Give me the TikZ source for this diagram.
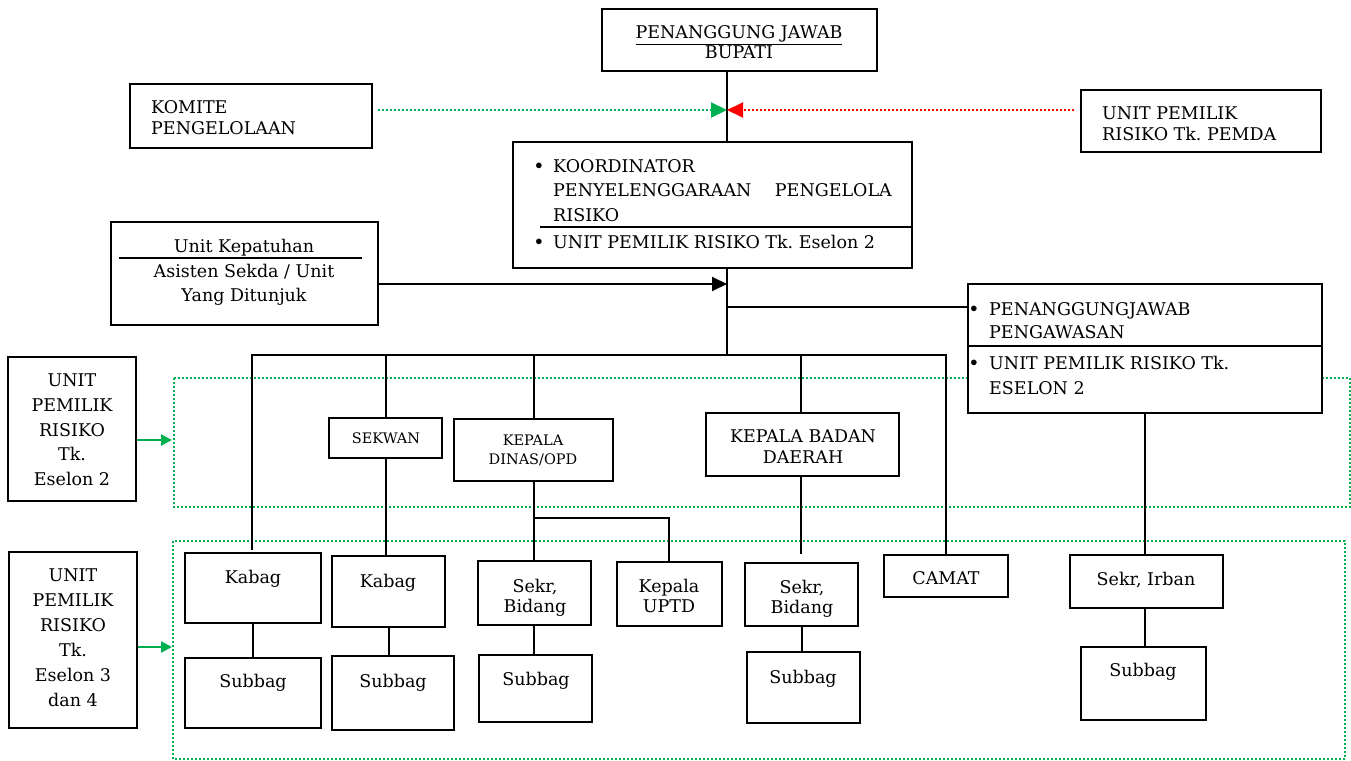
\documentclass[tikz,border=0pt]{standalone}
\usepackage{fontspec}
\setmainfont{DejaVu Serif}
\usetikzlibrary{arrows.meta}
\definecolor{gr}{HTML}{00B050}
\definecolor{rd}{HTML}{FF0000}
\frenchspacing
\tikzset{
 box/.style={draw=black, line width=1.8pt, fill=white, inner sep=0pt},
 conn/.style={draw=black, line width=1.9pt},
 gdot/.style={draw=gr, line width=2pt, dash pattern=on 2pt off 2pt},
 rdot/.style={draw=rd, line width=2pt, dash pattern=on 2pt off 2pt},
 tx/.style={inner sep=0pt, font=\fontsize{17.5}{20}\selectfont},
 txs/.style={inner sep=0pt, font=\fontsize{14.5}{17}\selectfont},
}
\newcommand\bx[5]{\node[box, minimum width={(#3-#1)*1pt}, minimum height={(#4-#2)*1pt}] (#5) at ({(#1+#3)/2},{(#2+#4)/2}) {};}
\newcommand\tl[5][tx]{\node[#1,anchor=base west] (#2) at (#3,#4) {#5};}
\newcommand\tc[5][tx]{\node[#1,anchor=base] (#2) at (#3,#4) {#5};}
\newcommand\bul[3]{\node[inner sep=0pt] (#1) at (#2,#3) {\fontsize{15}{15}\selectfont$\bullet$};}
\begin{document}
\begin{tikzpicture}[x=1pt,y=-1pt]
\useasboundingbox (0,0) rectangle (1351,760);
% green dotted areas
\draw[gdot] (174,378) rectangle (1350,507);
\draw[gdot] (173,541) rectangle (1345,759);
% junction coordinates
\coordinate (jt) at (727,110);
\coordinate (jk) at (727,284);
\coordinate (jp) at (727,307);
\coordinate (jm) at (727,355);
\coordinate (jl) at (252,355);
\coordinate (js) at (386,355);
\coordinate (jn) at (534,355);
\coordinate (jd) at (534,518);
\coordinate (ju) at (669,518);
\coordinate (jb) at (801,554);
\coordinate (jc) at (802,626);
\coordinate (jg) at (389,627);
\coordinate (ji) at (1145,413);
% boxes
\bx{602}{9}{877}{71}{top}
\bx{130}{84}{372}{148}{komite}
\bx{1081}{90}{1321}{152}{pemda}
\bx{513}{142}{912}{268}{koord}
\bx{111}{222}{378}{325}{kepat}
\bx{968}{284}{1322}{413}{pengaw}
\bx{8}{357}{136}{501}{ueA}
\bx{9}{552}{137}{728}{ueB}
\bx{329}{418}{442}{458}{sekwan}
\bx{454}{419}{613}{481}{kdinas}
\bx{706}{413}{899}{476}{kbadan}
\bx{185}{553}{321}{623}{kabagA}
\bx{185}{658}{321}{728}{subA}
\bx{332}{556}{445}{627}{kabagB}
\bx{332}{656}{454}{730}{subB}
\bx{478}{561}{591}{625}{sekrA}
\bx{479}{655}{592}{722}{subC}
\bx{617}{562}{722}{626}{uptd}
\bx{745}{563}{858}{626}{sekrB}
\bx{747}{652}{860}{723}{subD}
\bx{884}{555}{1008}{597}{camat}
\bx{1070}{555}{1223}{608}{irban}
\bx{1081}{647}{1206}{720}{subE}
% connectors
\draw[conn] (top.south -| jt) -- (koord.north -| jt);
\draw[conn] (koord.south -| jm) -- (jm);
\draw[conn, -{Triangle[length=15pt,width=14pt]}] (kepat.east |- jk) -- (jk);
\draw[conn] (jp) -- (jp -| pengaw.west);
\draw[conn] (jl |- kabagA.north) ++(0,-2) -- (jl) -- (camat.north |- jl) -- (camat.north);
\draw[conn] (js) -- (js |- sekwan.north);
\draw[conn] (jn) -- (jn |- kdinas.north);
\draw[conn] (jb |- jl) -- (jb |- kbadan.north);
\draw[conn] (jb |- kbadan.south) -- (jb);
\draw[conn] (js |- sekwan.south) -- (js |- kabagB.north);
\draw[conn] (jn |- kdinas.south) -- (jn |- sekrA.north);
\draw[conn] (jd) -- (ju) -- (ju |- uptd.north);
\draw[conn] (ji) -- (ji |- irban.north);
\draw[conn] (kabagA.south) -- (subA.north);
\draw[conn] (jg) -- (jg |- subB.north);
\draw[conn] (jn |- sekrA.south) -- (jn |- subC.north);
\draw[conn] (jc) -- (jc |- subD.north);
\draw[conn] (ji |- irban.south) -- (ji |- subE.north);
% dotted arrows
\draw[gdot, -{Triangle[length=16pt,width=15pt]}, gr] (komite.east |- jt) ++(5,0) -- (jt);
\draw[rdot, -{Triangle[length=16pt,width=15pt]}, rd] (pemda.west |- jt) ++(-6,0) -- (jt);
\draw[draw=gr, line width=2.5pt, -{Triangle[length=11pt,width=11pt]}] (ueA.east |- 0,440) -- (172,440);
\draw[draw=gr, line width=2.5pt, -{Triangle[length=11pt,width=11pt]}] (ueB.east |- 0,647) -- (172,647);
% texts
\tc{t1}{739}{39}{\underline{PENANGGUNG JAWAB}}
\tc{t2}{739}{59}{BUPATI}
\tl{t3}{151}{113}{KOMITE}
\tl{t4}{151}{134}{PENGELOLAAN}
\tl{t5}{1102}{119}{UNIT PEMILIK}
\tl{t6}{1102}{140}{RISIKO Tk. PEMDA}
\bul{b1}{539}{166}
\bul{b2}{539}{242}
\tl{t7}{553}{172}{KOORDINATOR}
\tl{t8}{553}{196}{PENYELENGGARAAN}
\node[tx,anchor=base east] (t8b) at (892,196) {PENGELOLA};
\tl{t9}{553}{221}{RISIKO}
\tl{t10}{553}{248}{UNIT PEMILIK RISIKO Tk. Eselon 2}
\draw[conn] (540,227) -- (koord.east |- 0,227);
\tc{t11}{244}{252}{Unit Kepatuhan}
\draw[conn] (119,258) -- (362,258);
\tc{t12}{244}{277}{Asisten Sekda / Unit}
\tc{t13}{244}{301}{Yang Ditunjuk}
\bul{b3}{974}{309}
\bul{b4}{974}{363}
\tl{t14}{989}{315}{PENANGGUNGJAWAB}
\tl{t15}{989}{338}{PENGAWASAN}
\draw[conn] (pengaw.west |- 0,346) -- (pengaw.east |- 0,346);
\tl{t16}{989}{369}{UNIT PEMILIK RISIKO Tk.}
\tl{t17}{989}{394}{ESELON 2}
\tc{u1}{72}{386}{UNIT}
\tc{u2}{72}{411}{PEMILIK}
\tc{u3}{72}{436}{RISIKO}
\tc{u4}{72}{460}{Tk.}
\tc{u5}{72}{485}{Eselon 2}
\tc{v1}{73}{581}{UNIT}
\tc{v2}{73}{606}{PEMILIK}
\tc{v3}{73}{631}{RISIKO}
\tc{v4}{73}{656}{Tk.}
\tc{v5}{73}{681}{Eselon 3}
\tc{v6}{73}{706}{dan 4}
\tc[txs]{s1}{386}{443}{SEKWAN}
\tc[txs]{s2}{533}{445}{KEPALA}
\tc[txs]{s3}{533}{464}{DINAS/OPD}
\tc{s4}{803}{442}{KEPALA BADAN}
\tc{s5}{803}{463}{DAERAH}
\tc{k1}{253}{583}{Kabag}
\tc{k2}{253}{687}{Subbag}
\tc{k3}{388}{587}{Kabag}
\tc{k4}{393}{687}{Subbag}
\tc{k5}{535}{592}{Sekr,}
\tc{k6}{535}{612}{Bidang}
\tc{k7}{536}{685}{Subbag}
\tc{k8}{669}{592}{Kepala}
\tc{k9}{669}{612}{UPTD}
\tc{k10}{802}{593}{Sekr,}
\tc{k11}{802}{613}{Bidang}
\tc{k12}{803}{683}{Subbag}
\tc{k13}{946}{584}{CAMAT}
\tc{k14}{1146}{585}{Sekr, Irban}
\tc{k15}{1143}{676}{Subbag}
\end{tikzpicture}
\end{document}
